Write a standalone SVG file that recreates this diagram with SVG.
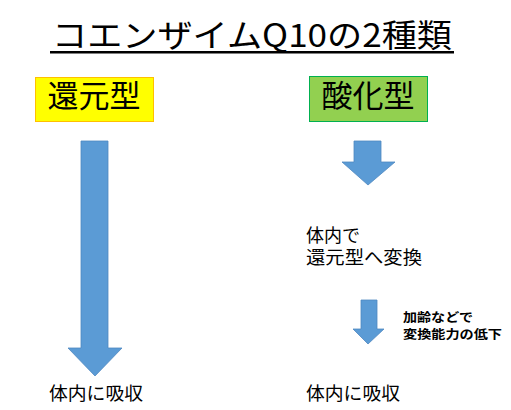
<svg xmlns="http://www.w3.org/2000/svg" width="511" height="410" viewBox="0 0 511 410">
<style>
text{font-family:"Noto Sans CJK JP","Noto Sans",sans-serif;fill:#000}
.big{font-size:31px}
.mid{font-size:18px}
.sm{font-size:12.5px;font-weight:bold}
.arr{fill:#5B9BD5;stroke:#4F88C0;stroke-width:0.8}
</style>
<rect width="511" height="410" fill="#fff"/>
<g id="title">
<text x="252" y="47" text-anchor="middle" style="font-size:32px" textLength="400" lengthAdjust="spacingAndGlyphs">コエンザイムQ10の2種類</text>
<rect x="50" y="51" width="404" height="2.5" fill="#000"/>
</g>
<g id="reduced">
<rect x="35.5" y="77.5" width="118" height="44" fill="#FFFF00" stroke="#FFC000" stroke-width="1"/>
<text class="big" x="94" y="107" text-anchor="middle">還元型</text>
</g>
<g id="oxidized">
<rect x="309.5" y="76.5" width="118" height="45" fill="#92D050" stroke="#00B050" stroke-width="1"/>
<text class="big" x="368" y="107" text-anchor="middle">酸化型</text>
</g>
<g id="connectors">
<polygon class="arr" points="81,141 108,141 108,348 122,348 95,376 68,348 81,348"/>
<polygon class="arr" points="354,141 381,141 381,162 395,162 368,185 342,162 354,162"/>
<polygon class="arr" points="361,300 377,300 377,329 384,329 368,344 353,329 361,329"/>
</g>
<g id="left-result">
<text class="mid" x="49" y="400" textLength="94" lengthAdjust="spacingAndGlyphs">体内に吸収</text>
</g>
<g id="convert">
<text class="mid"><tspan x="306" y="242">体内で</tspan><tspan x="306" y="264" textLength="116" lengthAdjust="spacingAndGlyphs">還元型へ変換</tspan></text>
</g>
<g id="note">
<text class="sm"><tspan x="403" y="322" textLength="70" lengthAdjust="spacingAndGlyphs">加齢などで</tspan><tspan x="403" y="339" textLength="99" lengthAdjust="spacingAndGlyphs">変換能力の低下</tspan></text>
</g>
<g id="right-result">
<text class="mid" x="306" y="400" textLength="94" lengthAdjust="spacingAndGlyphs">体内に吸収</text>
</g>
</svg>
